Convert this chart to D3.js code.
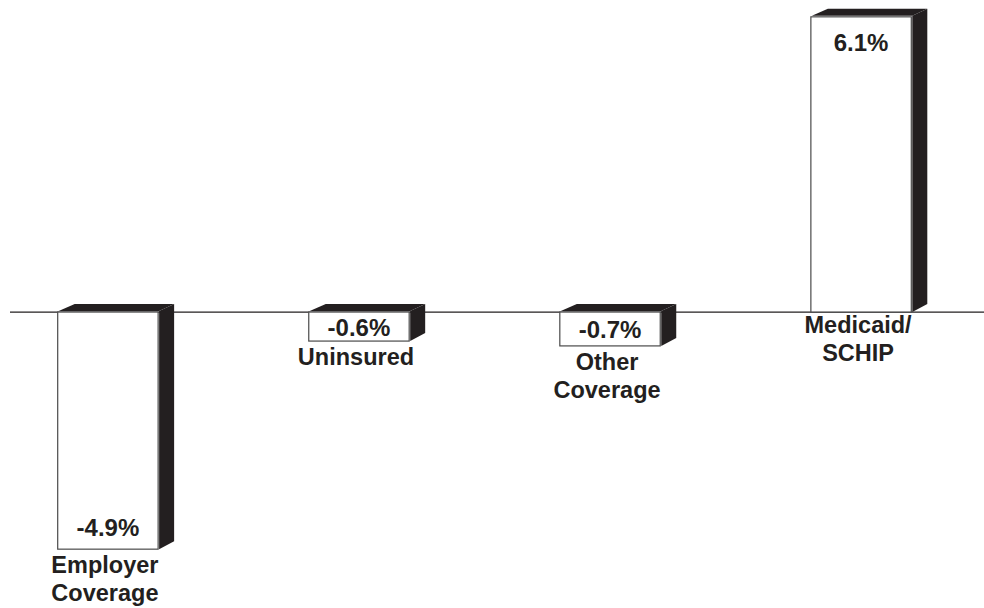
<!DOCTYPE html>
<html>
<head>
<meta charset="utf-8">
<script src="https://cdn.jsdelivr.net/npm/d3@7"></script>
<style>
  html, body { margin: 0; padding: 0; background: #fff; }
  svg { display: block; }
  text { font-family: "Liberation Sans", Arial, Helvetica, sans-serif; font-weight: bold; fill: #231f20; }
</style>
</head>
<body>
<svg id="chart" width="984" height="608"></svg>
<script>
// Change in coverage, percentage points
const categories = ["Employer Coverage", "Uninsured", "Other Coverage", "Medicaid/ SCHIP"];
const labelLines = [["Employer", "Coverage"], ["Uninsured"], ["Other", "Coverage"], ["Medicaid/", "SCHIP"]];
const values = [-4.9, -0.6, -0.7, 6.1];
const valueLabels = ["-4.9%", "-0.6%", "-0.7%", "6.1%"];

const W = 984, H = 608;
const ink = "#231f20";
const depthX = 16, depthY = -8;   // 3D extrusion offset

const svg = d3.select("#chart");

const x = d3.scaleBand()
  .domain(categories)
  .range([10, 959])
  .paddingInner(0.6)
  .paddingOuter(0.19);

const y = d3.scaleLinear()
  .domain([-5, 6.2])
  .range([554, 12]);

const data = categories.map((c, i) => ({ cat: c, v: values[i], label: valueLabels[i], lines: labelLines[i] }));

// zero line
svg.append("line")
  .attr("x1", 10).attr("x2", W)
  .attr("y1", y(0)).attr("y2", y(0))
  .attr("stroke", ink).attr("stroke-width", 1.2);

const bars = svg.selectAll("g.bar").data(data).join("g").attr("class", "bar");

bars.each(function(d) {
  const g = d3.select(this);
  const x0 = x(d.cat), x1 = x0 + x.bandwidth();
  const top = Math.min(y(d.v), y(0)), bot = Math.max(y(d.v), y(0));

  // top face
  g.append("path")
    .attr("d", `M${x0 + 1},${top - 1} L${x0 + depthX + 1},${top + depthY} L${x1 + depthX},${top + depthY} L${x1 + 1},${top - 1} Z`)
    .attr("fill", ink);
  // side face
  g.append("path")
    .attr("d", `M${x1 + 1},${top - 1} L${x1 + depthX},${top + depthY} L${x1 + depthX},${bot + depthY} L${x1 + 1},${bot} Z`)
    .attr("fill", ink);
  // front face
  g.append("rect")
    .attr("x", x0).attr("y", top)
    .attr("width", x.bandwidth()).attr("height", bot - top)
    .attr("fill", "#fff")
    .attr("stroke", "#4a4a4a").attr("stroke-width", 1.2);

  // value label
  const cx = x0 + x.bandwidth() / 2;
  let vy;
  if (d.v >= 0) vy = top + 34;
  else if (bot - top < 60) vy = (top + bot) / 2 + 9;
  else vy = bot - 13;
  g.append("text")
    .attr("x", cx).attr("y", vy)
    .attr("text-anchor", "middle")
    .attr("font-size", 24)
    .text(d.label);

  // category label
  const ly = d.v >= 0 ? y(0) + 21 : bot + 24;
  const t = g.append("text")
    .attr("x", cx - 3).attr("y", ly)
    .attr("text-anchor", "middle")
    .attr("font-size", 23.5);
  d.lines.forEach((ln, i) => {
    t.append("tspan").attr("x", cx - 3).attr("y", ly + i * 28).text(ln);
  });
});
</script>
</body>
</html>
